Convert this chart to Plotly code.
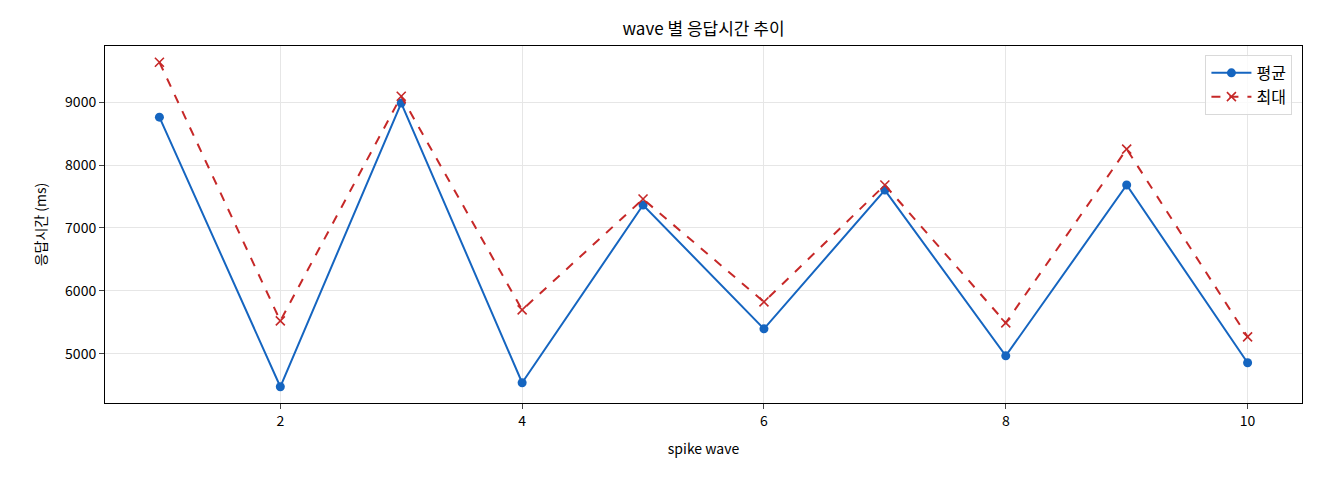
import plotly.graph_objects as go

waves = [1, 2, 3, 4, 5, 6, 7, 8, 9, 10]
avg_ms = [8762, 4476, 8985, 4540, 7365, 5397, 7603, 4968, 7683, 4857]
max_ms = [9635, 5524, 9095, 5698, 7460, 5825, 7683, 5492, 8254, 5270]

FONT = "Noto Sans CJK KR"

fig = go.Figure()
fig.add_trace(go.Scatter(x=waves, y=avg_ms, name="평균", mode="lines+markers",
                         line=dict(color="#1565C0", width=2),
                         marker=dict(symbol="circle", size=9, color="#1565C0")))
fig.add_trace(go.Scatter(x=waves, y=max_ms, name="최대", mode="lines+markers",
                         line=dict(color="#C62828", width=2, dash="dash"),
                         marker=dict(symbol="x-thin", size=9,
                                     line=dict(color="#C62828", width=1.6))))

# the page puts the figure 8px in from the corner
W, H = 1304, 464
L, T, R, B = 97, 38, 10, 69

fig.update_layout(
    width=W, height=H,
    paper_bgcolor="white", plot_bgcolor="white",
    margin=dict(l=L, r=R, t=T, b=B),
    font=dict(family=FONT, size=14, color="black"),
    title=dict(text="wave 별 응답시간 추이", x=(L + (W - L - R) / 2) / W, xanchor="center",
               y=1 - 21 / H, yanchor="middle", font=dict(size=17)),
    showlegend=True,
    legend=dict(x=0.992, y=0.975, xanchor="right", yanchor="top",
                bgcolor="rgba(255,255,255,0.8)", bordercolor="#d9d9d9", borderwidth=1,
                font=dict(size=16), itemwidth=40),
)
fig.update_xaxes(range=[0.55, 10.45], tickvals=[2, 4, 6, 8, 10],
                 showline=True, linecolor="black", linewidth=1, mirror=True,
                 ticks="outside", ticklen=5, showgrid=True, gridcolor="#e6e6e6",
                 zeroline=False, title=dict(text="spike wave", font=dict(size=14)),
                 tickfont=dict(size=14))
fig.update_yaxes(range=[4218, 9893], tickvals=[5000, 6000, 7000, 8000, 9000],
                 showline=True, linecolor="black", linewidth=1, mirror=True,
                 ticks="outside", ticklen=5, showgrid=True, gridcolor="#e6e6e6",
                 zeroline=False, title=dict(text="응답시간 (ms)", font=dict(size=14)),
                 tickfont=dict(size=14))

fig.write_html("out.html")
